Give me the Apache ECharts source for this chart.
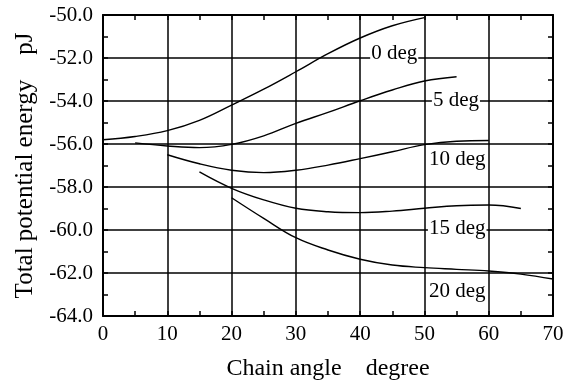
<!DOCTYPE html>
<html>
<head>
<meta charset="utf-8">
<script src="https://cdn.jsdelivr.net/npm/echarts@6/dist/echarts.min.js"></script>
<style>html,body{margin:0;padding:0;background:#fff}#c{width:574px;height:381px}</style>
</head>
<body>
<div id="c"></div>
<script>
var xValues = [0, 5, 10, 15, 20, 25, 30, 35, 40, 45, 50, 55, 60, 65, 70];
var deg0  = [-55.80, -55.65, -55.38, -54.90, -54.19, -53.45, -52.64, -51.80, -51.07, -50.50, -50.12, null, null, null, null];
var deg5  = [null, -55.95, -56.09, -56.17, -56.02, -55.62, -55.04, -54.53, -53.99, -53.49, -53.07, -52.87, null, null, null];
var deg10 = [null, null, -56.50, -56.92, -57.22, -57.33, -57.22, -56.98, -56.68, -56.36, -56.03, -55.87, -55.84, null, null];
var deg15 = [null, null, null, -57.30, -58.06, -58.60, -58.99, -59.15, -59.19, -59.12, -58.99, -58.87, -58.84, -59.00, null];
var deg20 = [null, null, null, null, -58.50, -59.46, -60.36, -60.93, -61.36, -61.63, -61.75, -61.83, -61.91, -62.05, -62.28];
var seriesNames = ['0 deg', '5 deg', '10 deg', '15 deg', '20 deg'];
var labelX = [45.3, 54.9, 55.1, 55.1, 55.1];
var labelY = [-51.8, -53.99, -56.7, -59.91, -62.88];
var xTitle = 'Chain angle    degree';
var yTitle = 'Total potential energy    pJ';

var FONT = 'Liberation Serif';
var allSeries = [deg0, deg5, deg10, deg15, deg20];

function pairs(arr) {
  var out = [];
  for (var i = 0; i < xValues.length; i++) {
    if (arr[i] !== null) out.push([xValues[i], arr[i]]);
  }
  return out;
}

var series = allSeries.map(function (arr, i) {
  return {
    type: 'line',
    name: seriesNames[i],
    data: pairs(arr),
    smooth: 0.4,
    showSymbol: false,
    symbol: 'none',
    lineStyle: { color: '#000', width: 1.4 },
    z: 3,
    markPoint: {
      symbol: 'rect',
      symbolSize: 1,
      itemStyle: { color: 'rgba(0,0,0,0)' },
      label: {
        show: true,
        position: 'inside',
        formatter: seriesNames[i],
        fontFamily: FONT,
        fontSize: 21,
        color: '#000',
        backgroundColor: '#fff',
        padding: [0, 1, 0, 1]
      },
      data: [{ coord: [labelX[i], labelY[i]] }],
      z: 10
    }
  };
});

var lineStyle = { color: '#000', width: 2 };
var chart = echarts.init(document.getElementById('c'));
chart.setOption({
  animation: false,
  backgroundColor: '#fff',
  grid: { left: 103, right: 21, top: 15, bottom: 65, containLabel: false, outerBoundsMode: 'none' },
  xAxis: [{
    type: 'value', min: 0, max: 70, interval: 10,
    name: xTitle, nameLocation: 'middle', nameGap: 41,
    nameTextStyle: { fontFamily: FONT, fontSize: 24, color: '#000' },
    axisLine: { show: true, onZero: false, lineStyle: lineStyle },
    axisTick: { show: true, inside: true, length: 5, lineStyle: { color: '#000', width: 1.5 } },
    minorTick: { show: true, splitNumber: 2, length: 5, lineStyle: { color: '#000', width: 1.5 } },
    axisLabel: { fontFamily: FONT, fontSize: 21, color: '#000', margin: 8 },
    splitLine: { show: true, lineStyle: { color: '#000', width: 1.5 } }
  }, {
    type: 'value', position: 'top', min: 0, max: 70, interval: 10,
    axisLine: { show: true, onZero: false, lineStyle: lineStyle },
    axisTick: { show: true, inside: true, length: 5, lineStyle: { color: '#000', width: 1.5 } },
    minorTick: { show: true, splitNumber: 2, length: 5, lineStyle: { color: '#000', width: 1.5 } },
    axisLabel: { show: false },
    splitLine: { show: false }
  }],
  yAxis: [{
    type: 'value', min: -64, max: -50, interval: 2,
    name: yTitle, nameLocation: 'middle', nameGap: 65, nameRotate: 90,
    nameTextStyle: { fontFamily: FONT, fontSize: 25, color: '#000' },
    axisLine: { show: true, onZero: false, lineStyle: lineStyle },
    axisTick: { show: true, inside: true, length: 5, lineStyle: { color: '#000', width: 1.5 } },
    minorTick: { show: true, splitNumber: 2, length: 5, lineStyle: { color: '#000', width: 1.5 } },
    axisLabel: { fontFamily: FONT, fontSize: 21, color: '#000', margin: 10,
      formatter: function (v) { return v.toFixed(1); } },
    splitLine: { show: true, lineStyle: { color: '#000', width: 1.5 } }
  }, {
    type: 'value', position: 'right', min: -64, max: -50, interval: 2,
    axisLine: { show: true, onZero: false, lineStyle: lineStyle },
    axisTick: { show: true, inside: true, length: 5, lineStyle: { color: '#000', width: 1.5 } },
    minorTick: { show: true, splitNumber: 2, length: 5, lineStyle: { color: '#000', width: 1.5 } },
    axisLabel: { show: false },
    splitLine: { show: false }
  }],
  series: series
});
</script>
</body>
</html>
